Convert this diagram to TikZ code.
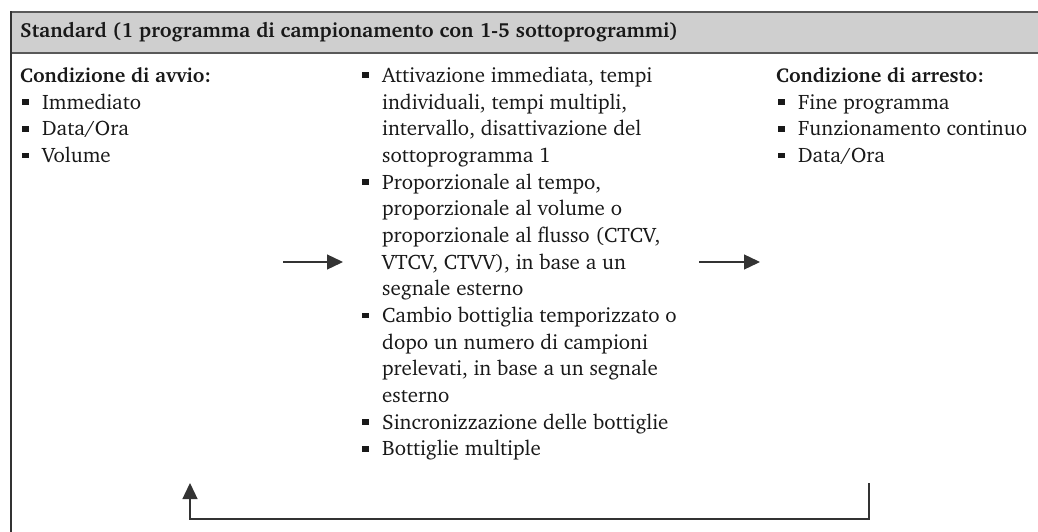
\documentclass[tikz,border=0pt]{standalone}
\usepackage[T1]{fontenc}
\usepackage{charter}
\usetikzlibrary{arrows.meta}
\newcommand\blt{\llap{\rule[4.3pt]{6.5pt}{5.7pt}\hspace{13.5pt}}}
\newlength\calw
\begin{document}
% calibrate font sizes to the measured text widths of the reference
\settowidth\calw{\fontsize{10}{12}\selectfont Attivazione immediata, tempi}%
\pgfmathsetmacro\bsz{10*270/\calw}%
\settowidth\calw{\fontsize{10}{12}\selectfont\bfseries Condizione di arresto:}%
\pgfmathsetmacro\hsz{10*208/\calw}%
\settowidth\calw{\fontsize{10}{12}\selectfont\bfseries Standard (1 programma di campionamento con 1-5 sottoprogrammi)}%
\pgfmathsetmacro\tsz{10*658/\calw}%
\begin{tikzpicture}[x=1pt,y=-1pt,
  txt/.style={anchor=base west,inner sep=0pt,text=black!90,font=\fontsize{\bsz}{26.67}\selectfont},
  head/.style={anchor=base west,inner sep=0pt,text=black!90,font=\fontsize{\hsz}{26.67}\selectfont\bfseries},
  title/.style={anchor=base west,inner sep=0pt,text=black!90,font=\fontsize{\tsz}{26.67}\selectfont\bfseries},
  conn/.style={draw=black!80,line width=1.3pt},
  arr/.style={conn,-{Triangle[length=16pt,width=15pt]}},
  frame/.style={draw=black!65,line width=1.5pt}
]
\useasboundingbox (0,0) rectangle (1038,532);
\fill[black!19] (11,12) rectangle (1038,53);
\draw[frame] (11,12) -- (1038,12);
\draw[frame] (11,53) -- (1038,53);
\draw[black!80,line width=1.3pt] (11,11.25) -- (11,532);

\node[title] (ttl) at (20,38) {Standard (1 programma di campionamento con 1-5 sottoprogrammi)};

% left column
\node[head] (lh) at (20,82.5) {Condizione di avvio:};
\foreach \t [count=\i] in {Immediato,Data/Ora,Volume}
  \node[txt] (l\i) at (42,{82.5+\i*26.67}) {\blt\t};

% middle column
\foreach \t [count=\i] in {
  {\blt Attivazione immediata, tempi},
  {individuali, tempi multipli,},
  {intervallo, disattivazione del},
  {sottoprogramma 1},
  {\blt Proporzionale al tempo,},
  {proporzionale al volume o},
  {proporzionale al flusso (CTCV,},
  {VTCV, CTVV), in base a un},
  {segnale esterno},
  {\blt Cambio bottiglia temporizzato o},
  {dopo un numero di campioni},
  {prelevati, in base a un segnale},
  {esterno},
  {\blt Sincronizzazione delle bottiglie},
  {\blt Bottiglie multiple}}
  \node[txt] (m\i) at (382,{82.5+(\i-1)*26.67}) {\t};

% right column
\node[head] (rh) at (776,82.5) {Condizione di arresto:};
\foreach \t [count=\i] in {Fine programma,Funzionamento continuo,Data/Ora}
  \node[txt] (r\i) at (798,{82.5+\i*26.67}) {\blt\t};

% arrows
\coordinate (a1s) at (283,262);
\coordinate (a1e) at (343,262);
\coordinate (a2s) at (699,262);
\coordinate (a2e) at (760,262);
\draw[arr] (a1s) -- (a1e);
\draw[arr] (a2s) -- (a2e);

\coordinate (ls) at (869,483);
\coordinate (lr) at (869,519);
\coordinate (lb) at (190,519);
\coordinate (le) at (190,483);
\draw[arr,line join=miter] (ls) -- (lr) -- (lb) -- (le);
\end{tikzpicture}
\end{document}
